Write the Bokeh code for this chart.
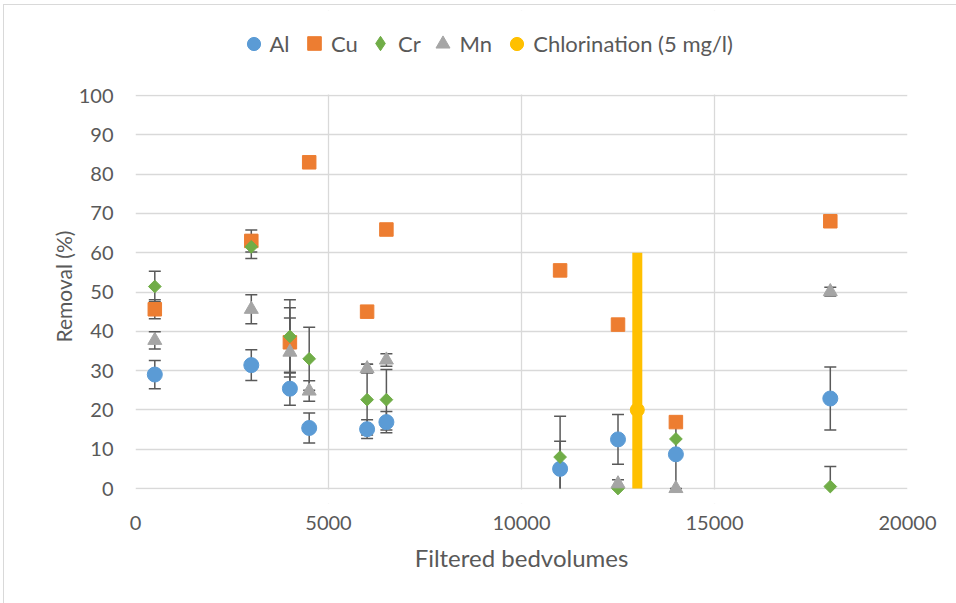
import numpy as np
from bokeh.plotting import figure
from bokeh.models import (ColumnDataSource, Whisker, TeeHead, Legend, LegendItem,
                          FixedTicker, Range1d, BoxAnnotation, Title)
from bokeh.embed import file_html
from bokeh.resources import INLINE

# ---------------- data ----------------
bedvolumes = [500, 3000, 4000, 4500, 6000, 6500, 11000, 12500, 14000, 18000]
al = [29.0, 31.4, 25.4, 15.4, 15.1, 16.9, 5.0, 12.5, 8.7, 22.9]
al_err = [3.6, 3.9, 4.2, 3.8, 2.4, 2.7, 7.0, 6.3, 8.7, 8.0]
cu = [45.6, 63.0, 37.2, 83.0, 45.0, 65.9, 55.5, 41.7, 16.9, 68.0]
cu_err = [2.4, 2.8, 8.8, 0, 0, 0, 0, 0, 0, 0]
cr = [51.4, 61.5, 38.7, 33.0, 22.6, 22.6, 8.0, 0.0, 12.6, 0.5]
cr_err = [3.9, 3.0, 9.3, 8.0, 9.0, 7.7, 10.4, 0, 0, 5.1]
mn = [37.7, 45.6, 34.7, 24.8, 30.5, 32.7, None, 1.2, 0.0, 50.1]
mn_err = [2.2, 3.7, 8.7, 2.6, 1.1, 1.6, 0, 1.0, 0, 1.1]
chl_x = [13000]
chl_y = [20]
chl_low = [0]
chl_high = [60]
x_ticks = [0, 5000, 10000, 15000, 20000]
y_ticks = [0, 10, 20, 30, 40, 50, 60, 70, 80, 90, 100]
x_min, x_max = 0, 20000
y_min, y_max = 0, 100

series_names = ["Al", "Cu", "Cr", "Mn", "Chlorination (5 mg/l)"]
C_AL, C_CU, C_CR, C_MN, C_CHL = "#5B9BD5", "#ED7D31", "#70AD47", "#A5A5A5", "#FFC000"
TXT = "#595959"
GRID = "#D9D9D9"
ERR = "#595959"
FONT = "Lato"

# ---------------- geometry (pixels) ----------------
FL, FW = 135, 772           # frame left / width  (x axis 0..20000)
PX_Y0, PX_Y100 = 488, 95    # pixel rows of y=0 and y=100
FT, FB = 10, 503            # frame top / bottom (frame is taller than the axis band)
ppu = (PX_Y0 - PX_Y100) / (y_max - y_min)
y_lo = y_min - (FB - PX_Y0) / ppu
y_hi = y_max + (PX_Y100 - FT) / ppu

p = figure(frame_width=FW, frame_height=FB - FT,
           min_border_left=FL, min_border_top=FT,
           min_border_right=956 - FL - FW, min_border_bottom=603 - FB,
           x_range=Range1d(x_min, x_max), y_range=Range1d(y_lo, y_hi),
           output_backend="svg", toolbar_location=None,
           background_fill_color="white", border_fill_color="white",
           border_fill_alpha=0)
p.outline_line_color = None
p.styles = {
    "background-color": "white",
    "background-image": "linear-gradient(#D9D9D9, #D9D9D9), linear-gradient(#D9D9D9, #D9D9D9)",
    "background-size": "1px 100%, 100% 1px",
    "background-position": "3px 4px, 3px 4px",
    "background-repeat": "no-repeat",
}

for ax in (p.xaxis, p.yaxis):
    ax.axis_line_color = None
    ax.major_tick_line_color = None
    ax.minor_tick_line_color = None
    ax.major_label_text_font = FONT
    ax.major_label_text_font_size = "20px"
    ax.major_label_text_color = TXT
    ax.axis_label_text_font = FONT
    ax.axis_label_text_font_size = "24px"
    ax.axis_label_text_color = TXT
    ax.axis_label_text_font_style = "normal"

p.xaxis.ticker = FixedTicker(ticks=x_ticks)
p.yaxis.ticker = FixedTicker(ticks=y_ticks)
p.xaxis.axis_label = "Filtered bedvolumes"
p.xaxis.major_label_standoff = 6
p.xaxis.axis_label_standoff = 10
p.yaxis.major_label_standoff = 16

ytitle = Title(text="Removal (%)", align="left", offset=FB - 342,
               text_font=FONT, text_font_size="21px", text_font_style="normal",
               text_color=TXT, standoff=0)
p.add_layout(ytitle, "left")

p.grid.grid_line_color = GRID
p.grid.grid_line_width = 1.3

# white covers outside the 0..100 band so grid lines stop at the axis limits
p.add_layout(BoxAnnotation(top=y_min - 0.25, fill_color="white", fill_alpha=1,
                           line_color=None, level="underlay"))
p.add_layout(BoxAnnotation(bottom=y_max + 0.25, fill_color="white", fill_alpha=1,
                           line_color=None, level="underlay"))


def add_errors(x, y, err):
    x = np.array(x, dtype=float)
    y = np.array([np.nan if v is None else v for v in y], dtype=float)
    e = np.array(err, dtype=float)
    m = (e > 0) & ~np.isnan(y)
    xs, ys, es = x[m], y[m], e[m]
    lo = ys - es
    clip = lo < y_min
    lo_c = np.maximum(lo, y_min)
    up_src = ColumnDataSource(dict(base=xs, lower=ys, upper=ys + es))
    p.add_layout(Whisker(source=up_src, base="base", lower="lower", upper="upper",
                         dimension="height", line_color=ERR, line_width=1.5,
                         lower_head=None,
                         upper_head=TeeHead(size=12, line_color=ERR, line_width=1.5)))
    lo_src = ColumnDataSource(dict(base=xs[~clip], lower=lo_c[~clip], upper=ys[~clip]))
    p.add_layout(Whisker(source=lo_src, base="base", lower="lower", upper="upper",
                         dimension="height", line_color=ERR, line_width=1.5,
                         upper_head=None,
                         lower_head=TeeHead(size=12, line_color=ERR, line_width=1.5)))
    if clip.any():
        cl_src = ColumnDataSource(dict(base=xs[clip], lower=lo_c[clip], upper=ys[clip]))
        p.add_layout(Whisker(source=cl_src, base="base", lower="lower", upper="upper",
                             dimension="height", line_color=ERR, line_width=1.5,
                             upper_head=None, lower_head=None))


for yy, ee in ((al, al_err), (cu, cu_err), (cr, cr_err), (mn, mn_err)):
    add_errors(bedvolumes, yy, ee)

src = ColumnDataSource(dict(
    x=bedvolumes, al=al, cu=cu, cr=cr,
    mn=[np.nan if v is None else v for v in mn]))
chl_src = ColumnDataSource(dict(x=chl_x, y=chl_y, low=chl_low, high=chl_high))

p.segment(x0="x", y0="low", x1="x", y1="high", source=chl_src,
          line_color=C_CHL, line_width=10)
r_al = p.scatter("x", "al", source=src, marker="circle", size=15,
                 fill_color=C_AL, line_color=C_AL)
r_cu = p.scatter("x", "cu", source=src, marker="square", size=13.5,
                 fill_color=C_CU, line_color=C_CU)
r_cr = p.scatter("x", "cr", source=src, marker="square", size=9, angle=np.pi / 4,
                 fill_color=C_CR, line_color=C_CR)
r_mn = p.scatter("x", "mn", source=src, marker="triangle", size=14,
                 fill_color=C_MN, line_color=C_MN)
r_chl = p.scatter("x", "y", source=chl_src, marker="circle", size=14,
                  fill_color=C_CHL, line_color=C_CHL)
# legend-only glyph for the diamond (legend glyphs are drawn unrotated)
r_cr_leg = p.scatter("x", "cr", source=src, marker="diamond", size=12,
                     fill_color=C_CR, line_color=C_CR, visible=False)

# ---------------- legend (one entry per legend, placed individually) ----------------
legend_centers = [253, 314, 380, 442, 516.7]
legend_glyph = [33, 34, 36, 35, 33]
legend_renderers = [r_al, r_cu, r_cr_leg, r_mn, r_chl]
LEG_CY = 43.3
for name, cx, g, r in zip(series_names, legend_centers, legend_glyph, legend_renderers):
    leg = Legend(items=[LegendItem(label=name, renderers=[r])],
                 location=(cx - g / 2 - FL, FB - LEG_CY - g / 2),
                 orientation="horizontal", glyph_width=g, glyph_height=g,
                 label_height=g, label_standoff=int(round(13 - g / 2)),
                 padding=0, margin=0, spacing=0,
                 border_line_color=None, background_fill_alpha=0,
                 inactive_fill_alpha=0,
                 label_text_font=FONT, label_text_font_size="22px",
                 label_text_color=TXT)
    p.add_layout(leg)

open("out.html", "w").write(file_html(p, INLINE))
